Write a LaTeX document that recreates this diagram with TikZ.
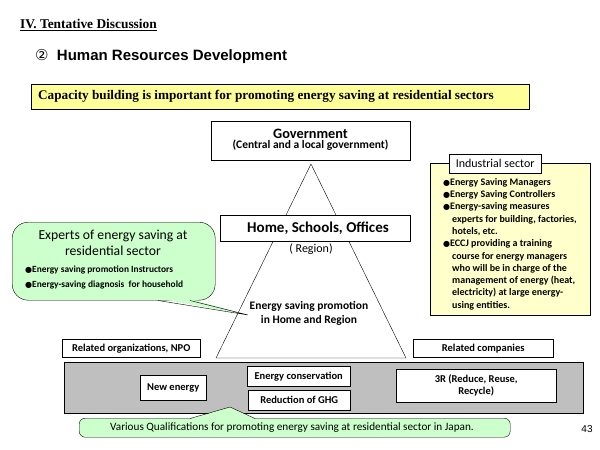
\documentclass[tikz,border=0pt]{standalone}
\usepackage{fontspec}
\setmainfont{Carlito}
\newfontfamily\tnr{Liberation Serif}
\newfontfamily\arial{Liberation Sans}
\newfontfamily\djv{DejaVu Sans}
\definecolor{ylw}{RGB}{255,255,153}
\definecolor{pyl}{RGB}{255,255,204}
\definecolor{grn}{RGB}{204,255,204}
\definecolor{gry}{RGB}{191,191,191}
\newcommand{\bul}{{\djv\fontsize{8}{8}\selectfont ●}}
\begin{document}
\begin{tikzpicture}[x=1pt,y=-1pt,
  wbox/.style={draw,fill=white,align=center,inner sep=0pt,font=\bfseries\fontsize{10.5}{12}\selectfont},
  lbl/.style={align=left,anchor=north west,inner sep=0pt}]
\useasboundingbox (0,0) rectangle (600,450);
\node[anchor=west,inner sep=0pt,font=\tnr\bfseries\fontsize{13.4}{15}\selectfont] (t1) at (20,25) {\underline{IV. Tentative Discussion}};
\node[anchor=west,inner sep=0pt,font=\arial\bfseries\fontsize{15}{17}\selectfont] (t2) at (35,57) {{\djv\mdseries ②}\ \ Human Resources Development};
\node[draw,fill=ylw,anchor=north west,minimum width=498,minimum height=25,inner sep=0pt] (yb) at (31,84) {};
\node[anchor=west,inner sep=0pt,font=\tnr\bfseries\fontsize{13.2}{15}\selectfont] (ybt) at (38,96.5) {Capacity building is important for promoting energy saving at residential sectors};
% triangle
\coordinate (apex) at (311,164);
\coordinate (bl) at (216,358);
\coordinate (br) at (406,358);
\draw (apex) -- (bl) -- (br) -- cycle;
\node[wbox,anchor=north west,minimum width=199,minimum height=39] (gov) at (211,121) {};
\node[inner sep=0pt,align=center] (govt) at (310.5,140) {{\bfseries\fontsize{14.3}{16}\selectfont Government}\\[-2pt]{\bfseries\fontsize{11.5}{13}\selectfont (Central and a local government)}};
\node[wbox,anchor=north west,minimum width=190,minimum height=26] (home) at (220,215) {};
\node[inner sep=0pt,font=\bfseries\fontsize{15}{17}\selectfont] (homet) at (318,228) {Home, Schools, Offices};
\node[inner sep=0pt,font=\fontsize{12}{14}\selectfont] (reg) at (311,249) {( Region)};
\node[inner sep=0pt,align=center,font=\bfseries\fontsize{11.5}{14}\selectfont] (esp) at (309,313) {Energy saving promotion\\in Home and Region};
% green callout
\node[draw,fill=grn,rounded corners=16,anchor=north west,minimum width=203,minimum height=78,inner sep=0] (gc) at (12,222) {};
\fill[grn] (161,299) -- (248,315) -- (190,299) -- cycle;
\draw (158,300.5) -- (248,315) -- (190,300.5);
\node[inner sep=0pt,align=center,font=\fontsize{13.7}{16}\selectfont] (gct) at (113,243) {Experts of energy saving at\\residential sector};
\node[lbl,font=\bfseries\fontsize{9.4}{11}\selectfont] (gcl) at (25,266) {\bul Energy saving promotion Instructors\\[4pt]\bul Energy-saving diagnosis\ \ for household};
% industrial
\node[draw,fill=pyl,anchor=north west,minimum width=160,minimum height=152,inner sep=0pt] (ind) at (430,163) {};
\node[draw,fill=white,anchor=north west,minimum width=92,minimum height=19,inner sep=0pt,font=\fontsize{12}{14}\selectfont] (indl) at (449,154) {Industrial sector};
\node[lbl,font=\bfseries\fontsize{10}{12.3}\selectfont] (indt) at (443,178) {\bul Energy Saving Managers\\\bul Energy Saving Controllers\\\bul Energy-saving measures\\\hspace*{9pt}experts for building, factories,\\\hspace*{9pt}hotels, etc.\\\bul ECCJ providing a training\\\hspace*{9pt}course for energy managers\\\hspace*{9pt}who will be in charge of the\\\hspace*{9pt}management of energy (heat,\\\hspace*{9pt}electricity) at large energy-\\\hspace*{9pt}using entities.};
% related
\node[wbox,anchor=north west,minimum width=138,minimum height=18] (ro) at (62,339) {Related organizations, NPO};
\node[wbox,anchor=north west,minimum width=140,minimum height=18] (rc) at (413,339) {Related companies};
% gray
\node[draw,fill=gry,anchor=north west,minimum width=519,minimum height=51,inner sep=0pt] (gr) at (64,362) {};
\node[wbox,anchor=north west,minimum width=66,minimum height=25] (ne) at (140,375) {New energy};
\node[wbox,anchor=north west,minimum width=103,minimum height=20] (ec) at (247,366) {Energy conservation};
\node[wbox,anchor=north west,minimum width=102,minimum height=20] (gh) at (248,390) {Reduction of GHG};
\node[wbox,anchor=north west,minimum width=160,minimum height=33] (r3) at (396,369) {3R (Reduce, Reuse,\\Recycle)};
% bottom callout
\node[draw,fill=grn,rounded corners=6,anchor=north west,minimum width=431,minimum height=19,inner sep=0] (bc) at (79,418) {};
\fill[grn] (190,419) -- (230,407) -- (255,419) -- cycle;
\draw (190,418.5) -- (230,407) -- (255,418.5);
\node[inner sep=0pt,font=\fontsize{11.2}{13}\selectfont] (bct) at (292,428) {Various Qualifications for promoting energy saving at residential sector in Japan.};
\node[inner sep=0pt,font=\arial\fontsize{10}{12}\selectfont] (pg) at (587,429) {43};
\end{tikzpicture}
\end{document}
